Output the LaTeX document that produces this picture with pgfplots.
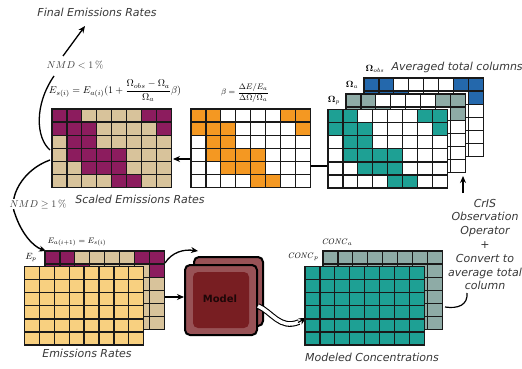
\documentclass[border=0pt]{standalone}
\usepackage{pgfplots}
\pgfplotsset{compat=1.18}
\usepackage{pgfplotstable}
\usepackage[no-math]{fontspec}
\setmainfont{DejaVu Sans}
\usetikzlibrary{arrows.meta}
\definecolor{purp}{RGB}{140,28,94}
\definecolor{tanc}{RGB}{216,195,155}
\definecolor{orng}{RGB}{244,152,34}
\definecolor{tealc}{RGB}{30,160,148}
\definecolor{grayt}{RGB}{142,171,166}
\definecolor{bluec}{RGB}{36,104,172}
\definecolor{yell}{RGB}{248,208,128}
\definecolor{mauve}{RGB}{152,82,86}
\definecolor{dred}{RGB}{120,30,34}
\definecolor{txt}{RGB}{55,55,55}
% a grid cell: 14.9 x 13.1 units (1 unit = 1pt)
\pgfdeclareplotmark{cell}{%
  \pgfpathrectangle{\pgfqpoint{-7.45pt}{-6.55pt}}{\pgfqpoint{14.9pt}{13.1pt}}%
  \pgfusepathqfillstroke}
% all 8 x 6 cells of a grid (column, row)
\pgfplotstableread{
c r
1 1
2 1
3 1
4 1
5 1
6 1
7 1
8 1
1 2
2 2
3 2
4 2
5 2
6 2
7 2
8 2
1 3
2 3
3 3
4 3
5 3
6 3
7 3
8 3
1 4
2 4
3 4
4 4
5 4
6 4
7 4
8 4
1 5
2 5
3 5
4 5
5 5
6 5
7 5
8 5
1 6
2 6
3 6
4 6
5 6
6 6
7 6
8 6
}\allcells
% the highlighted cells of the pattern (column, row)
\pgfplotstableread{
c r
1 1
2 1
7 1
8 1
1 2
2 2
3 2
8 2
2 3
3 3
2 4
3 4
4 4
5 4
3 5
4 5
5 5
5 6
6 6
}\filled
\pgfplotsset{
  cells/.style={only marks, mark=cell, line width=1.3pt,
    mark options={draw=black!90, fill=#1}},
}
\begin{document}
\begin{tikzpicture}
\begin{axis}[name=ax, x=1pt, y=1pt, y dir=reverse, xmin=0, xmax=522, ymin=0, ymax=369,
  hide axis, clip=false, scale only axis]
% Omega_obs
\addplot[cells=white] table[x expr={364+(\thisrow{c}-0.5)*14.9}, y expr={78+(\thisrow{r}-0.5)*13.1}] {\allcells};
\addplot[cells=bluec] table[x expr={364+(\thisrow{c}-0.5)*14.9}, y expr={78+(\thisrow{r}-0.5)*13.1}] {\filled};
% Omega_a
\addplot[cells=white] table[x expr={346+(\thisrow{c}-0.5)*14.9}, y expr={94+(\thisrow{r}-0.5)*13.1}] {\allcells};
\addplot[cells=grayt] table[x expr={346+(\thisrow{c}-0.5)*14.9}, y expr={94+(\thisrow{r}-0.5)*13.1}] {\filled};
% Omega_p
\addplot[cells=white] table[x expr={328+(\thisrow{c}-0.5)*14.9}, y expr={109.5+(\thisrow{r}-0.5)*13.1}] {\allcells};
\addplot[cells=tealc] table[x expr={328+(\thisrow{c}-0.5)*14.9}, y expr={109.5+(\thisrow{r}-0.5)*13.1}] {\filled};
% Emissions (back: previous scaled rates, front: prior)
\addplot[cells=tanc] table[x expr={45+(\thisrow{c}-0.5)*14.9}, y expr={251+(\thisrow{r}-0.5)*13.1}] {\allcells};
\addplot[cells=purp] table[x expr={45+(\thisrow{c}-0.5)*14.9}, y expr={251+(\thisrow{r}-0.5)*13.1}] {\filled};
\addplot[cells=yell] table[x expr={24.5+(\thisrow{c}-0.5)*14.9}, y expr={266.5+(\thisrow{r}-0.5)*13.1}] {\allcells};
% Concentrations
\addplot[cells=grayt] table[x expr={323+(\thisrow{c}-0.5)*14.9}, y expr={251+(\thisrow{r}-0.5)*13.1}] {\allcells};
\addplot[cells=tealc] table[x expr={305+(\thisrow{c}-0.5)*14.9}, y expr={266.5+(\thisrow{r}-0.5)*13.1}] {\allcells};
% Scaled emissions
\addplot[cells=tanc] table[x expr={52+(\thisrow{c}-0.5)*14.9}, y expr={109+(\thisrow{r}-0.5)*13.1}] {\allcells};
\addplot[cells=purp] table[x expr={52+(\thisrow{c}-0.5)*14.9}, y expr={109+(\thisrow{r}-0.5)*13.1}] {\filled};
% beta
\addplot[cells=white] table[x expr={191+(\thisrow{c}-0.5)*14.9}, y expr={109+(\thisrow{r}-0.5)*13.1}] {\allcells};
\addplot[cells=orng] table[x expr={191+(\thisrow{c}-0.5)*14.9}, y expr={109+(\thisrow{r}-0.5)*13.1}] {\filled};

% Model boxes
\draw[line width=2pt, fill=mauve, rounded corners=5pt] (194,257) rectangle (263,326);
\fill[dred, rounded corners=4pt] (201,264) rectangle (256,319);
\draw[line width=2pt, fill=mauve, rounded corners=5pt] (185,265) rectangle (257,335);
\fill[dred, rounded corners=5pt] (193,272) rectangle (249,328);
\node[font=\bfseries\fontsize{10}{12}\selectfont, text=black!75!dred] at (220,298.5) {Model};

% arrows and curves
\draw[line width=1.3pt] (50,150) .. controls (36,138) and (34,105) .. (54,76);
\draw[line width=1.3pt, -{Stealth[length=7pt,width=6pt]}] (63,56) -- (85,26);
\draw[line width=1.4pt, -{Stealth[length=7pt,width=6pt]}] (50,160) .. controls (22,170) and (8,198) .. (15,214) .. controls (21,232) and (32,246) .. (46,251);
\draw[line width=1.3pt, -{Stealth[length=7pt,width=6pt]}] (191,159) -- (173,159);
\draw[line width=1.2pt] (309,166) -- (328,166);
\draw[line width=1.3pt, -{Stealth[length=7pt,width=6pt]}] (463,193) -- (463,176);
\draw[line width=1.2pt] (467,293) .. controls (468,305) and (458,309) .. (445,307);
\draw[line width=1.3pt, -{Stealth[length=7pt,width=6pt]}] (165,263) .. controls (172,252) and (184,249) .. (198,251);
\draw[line width=1.3pt, -{Stealth[length=7pt,width=6pt]}] (146,297) -- (184,297);
\draw[line width=1.1pt, double=white, double distance=3.5pt] (258,306) .. controls (272,312) and (280,330) .. (299,322);
\draw[line width=1.2pt, -{Stealth[length=7pt,width=7pt]}] (298,322.5) -- (306,318);

% text labels
\node[font=\itshape\fontsize{11}{13}\selectfont, text=txt] at (97,12) {Final Emissions Rates};
\node[font=\itshape\fontsize{11}{13}\selectfont, text=txt] at (140,199) {Scaled Emissions Rates};
\node[font=\itshape\fontsize{11}{13}\selectfont, text=txt] at (87,353) {Emissions Rates};
\node[font=\itshape\fontsize{11}{13}\selectfont, text=txt] at (372,357) {Modeled Concentrations};
\node[font=\itshape\fontsize{11}{13}\selectfont, text=txt, anchor=west] at (388,67) {Averaged total columns};
\node[font=\itshape\fontsize{11}{13.8}\selectfont, text=txt, align=center] at (485,244.5)
  {CrIS\\Observation\\Operator\\+\\Convert to\\average total\\column};

\node[font=\fontsize{10}{11}\selectfont, text=txt] at (75,65) {$NMD < 1\,\%$};
\node[font=\fontsize{10}{11}\selectfont, text=txt, fill=white, inner sep=1pt] at (38,204) {$NMD \geq 1\,\%$};
\node[font=\fontsize{10}{11}\selectfont] at (115,91)
  {$\displaystyle E_{s(i)} = E_{a(i)}(1 + \frac{\Omega_{obs}-\Omega_a}{\Omega_a}\beta)$};
\node[font=\fontsize{8.5}{10}\selectfont] at (245,93)
  {$\displaystyle \beta = \frac{\Delta E/E_a}{\Delta\Omega/\Omega_a}$};
\node[font=\fontsize{8.5}{10}\selectfont] at (77,242) {$E_{a(i+1)} = E_{s(i)}$};
\node[font=\fontsize{9}{10}\selectfont] at (31,258) {$E_p$};
\node[font=\fontsize{9}{10}\selectfont] at (375,69) {$\mathbf{\Omega}_{obs}$};
\node[font=\fontsize{9}{10}\selectfont] at (352,85) {$\mathbf{\Omega}_a$};
\node[font=\fontsize{9}{10}\selectfont] at (334,100) {$\mathbf{\Omega}_p$};
\node[font=\fontsize{8.5}{10}\selectfont] at (337,242) {$\mathit{CONC}_a$};
\node[font=\fontsize{8.5}{10}\selectfont] at (303,257) {$\mathit{CONC}_p$};
\end{axis}
\pgfresetboundingbox
\path[use as bounding box] (ax.south west) rectangle (ax.north east);
\end{tikzpicture}
\end{document}
